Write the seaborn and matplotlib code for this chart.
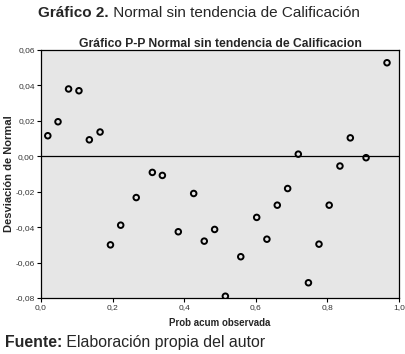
import seaborn as sns
import matplotlib.pyplot as plt
import pandas as pd
from matplotlib.ticker import FuncFormatter, MultipleLocator

# Prob acum observada vs desviacion de normal
prob_obs = [0.019, 0.0475, 0.077, 0.106, 0.135, 0.165, 0.194, 0.2226, 0.266,
            0.311, 0.339, 0.3835, 0.4265, 0.456, 0.485, 0.515, 0.558, 0.6025,
            0.631, 0.660, 0.689, 0.7187, 0.747, 0.7765, 0.805, 0.835, 0.864,
            0.908, 0.9665]
desviacion = [0.0116, 0.0195, 0.038, 0.037, 0.0093, 0.0137, -0.050, -0.0389,
              -0.0233, -0.0091, -0.0108, -0.0426, -0.021, -0.0479, -0.0413,
              -0.079, -0.0567, -0.0345, -0.0468, -0.0276, -0.0182, 0.0012,
              -0.0714, -0.0496, -0.0276, -0.0055, 0.0104, -0.0008, 0.0528]

df = pd.DataFrame({"x": prob_obs, "y": desviacion})

sns.set_style("white")
plt.rcParams['font.family'] = ['Liberation Sans', 'DejaVu Sans']

fig = plt.figure(figsize=(4.06, 3.54), dpi=100)
ax = fig.add_axes([41 / 406, 1 - 298 / 354, 358 / 406, 248 / 354])
ax.set_facecolor('#e6e6e6')

ax.axhline(0, color='black', lw=0.9, zorder=1)
sns.scatterplot(data=df, x="x", y="y", ax=ax, marker='o', s=16,
                facecolor='none', edgecolor='black', linewidth=1.4, zorder=3)

ax.set_xlim(0, 1.0)
ax.set_ylim(-0.08, 0.06)
ax.xaxis.set_major_locator(MultipleLocator(0.2))
ax.yaxis.set_major_locator(MultipleLocator(0.02))
ax.xaxis.set_major_formatter(FuncFormatter(lambda v, p: f"{v:.1f}".replace('.', ',')))
ax.yaxis.set_major_formatter(FuncFormatter(lambda v, p: f"{v:.2f}".replace('.', ',')))
ax.tick_params(axis='both', which='major', direction='out', length=3, width=0.8,
               labelsize=6, labelcolor='#333333', color='black', pad=1.5,
               left=True, bottom=True)
for s in ax.spines.values():
    s.set_color('black')
    s.set_linewidth(0.9)

ax.set_xlabel("Prob acum observada", fontsize=7, fontweight='bold', labelpad=5)
ax.set_ylabel("Desviación de Normal", fontsize=8, fontweight='bold', labelpad=1)
ax.set_title("Gráfico P-P Normal sin tendencia de Calificacion", fontsize=8.7,
             fontweight='bold', pad=2)

# header and footer with bold lead words
fig.canvas.draw()
r = fig.canvas.get_renderer()


def two_part(x, y, bold, rest, size):
    t = fig.text(x, y, bold, fontsize=size, fontweight='bold', va='baseline')
    bb = t.get_window_extent(renderer=r)
    fig.text(bb.x1 / fig.bbox.width, y, rest, fontsize=size, va='baseline')


two_part(38 / 406, 1 - 17 / 354, "Gráfico 2.", " Normal sin tendencia de Calificación", 11)
two_part(5 / 406, 1 - 347 / 354, "Fuente:", " Elaboración propia del autor", 11.4)

fig.savefig("out.png", dpi=100)
